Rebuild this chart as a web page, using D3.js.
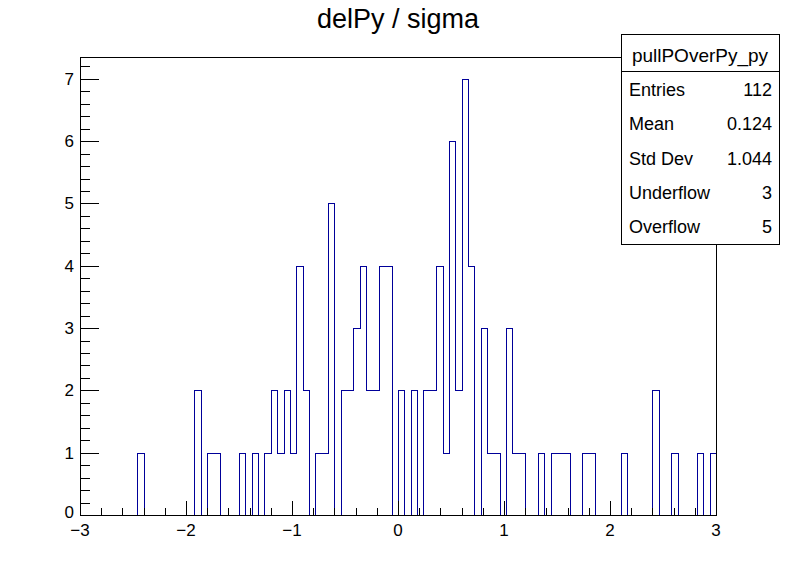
<!DOCTYPE html>
<html>
<head>
<meta charset="utf-8">
<script src="https://cdn.jsdelivr.net/npm/d3@7"></script>
<style>
  body { margin: 0; background: #fff; }
  svg text { font-family: "Liberation Sans", Arial, Helvetica, sans-serif; }
</style>
</head>
<body>
<div id="chart"></div>
<script>
(function(){
// Histogram definition: 100 bins from -3 to 3
const xMin = -3, xMax = 3, nBins = 100;
const binCounts = [
  0,0,0,0,0,0,0,0,0,1,
  0,0,0,0,0,0,0,0,2,0,
  1,1,0,0,0,1,0,1,0,1,
  2,1,2,1,4,2,0,1,1,5,
  0,2,2,3,4,2,2,4,4,0,
  2,0,2,0,2,2,4,1,6,2,
  7,4,0,3,1,1,0,3,1,1,
  0,0,1,0,1,1,1,0,0,1,
  1,0,0,0,0,1,0,0,0,0,
  2,0,0,1,0,0,0,1,0,1
];
const xTickValues = [-3, -2, -1, 0, 1, 2, 3];
const yTickValues = [0, 1, 2, 3, 4, 5, 6, 7];
const statNames = ["Entries", "Mean", "Std Dev", "Underflow", "Overflow"];
const statValues = ["112", "0.124", "1.044", "3", "5"];
const histName = "pullPOverPy_py";
const title = "delPy / sigma";

const width = 796, height = 572;
const frame = { left: 80, right: 716, top: 57, bottom: 515 };
const lineColor = "#000099";

const svg = d3.select("#chart").append("svg")
    .attr("width", width)
    .attr("height", height);

const x = d3.scaleLinear().domain([xMin, xMax]).range([frame.left, frame.right]);
const yMax = d3.max(binCounts) * 1.05;
const y = d3.scaleLinear().domain([0, yMax]).range([frame.bottom, frame.top]);

// Histogram outline (step line)
const binW = (xMax - xMin) / nBins;
const pts = [[x(xMin), y(0)]];
binCounts.forEach((c, i) => {
    const x0 = x(xMin + i * binW), x1 = x(xMin + (i + 1) * binW);
    pts.push([x0, y(c)]);
    pts.push([x1, y(c)]);
});
pts.push([x(xMax), y(0)]);

svg.append("path")
    .attr("d", d3.line()(pts.map(p => [Math.round(p[0]) + 0.5, Math.round(p[1]) + 0.5])))
    .attr("fill", "none")
    .attr("stroke", lineColor)
    .attr("stroke-width", 1)
    .attr("shape-rendering", "crispEdges");

// Frame
svg.append("rect")
    .attr("x", frame.left + 0.5)
    .attr("y", frame.top + 0.5)
    .attr("width", frame.right - frame.left)
    .attr("height", frame.bottom - frame.top)
    .attr("fill", "none")
    .attr("stroke", "#000")
    .attr("shape-rendering", "crispEdges");

// X axis ticks (major every 1, minor every 0.2)
const xMinor = d3.range(-2.8, 3, 0.2).filter(v => Math.abs(v - Math.round(v)) > 0.01);
const xMajorLen = 14, xMinorLen = 7;
const tickG = svg.append("g").attr("stroke", "#000").attr("shape-rendering", "crispEdges");
xTickValues.forEach(v => {
    const px = Math.round(x(v)) + 0.5;
    tickG.append("line").attr("x1", px).attr("x2", px)
        .attr("y1", frame.bottom).attr("y2", frame.bottom - xMajorLen);
});
xMinor.forEach(v => {
    const px = Math.round(x(v)) + 0.5;
    tickG.append("line").attr("x1", px).attr("x2", px)
        .attr("y1", frame.bottom).attr("y2", frame.bottom - xMinorLen);
});

// Y axis ticks (major every 1, minor every 0.2)
const yMinor = d3.range(0.2, yMax, 0.2).filter(v => Math.abs(v - Math.round(v)) > 0.01);
const yMajorLen = 19, yMinorLen = 9.5;
yTickValues.forEach(v => {
    const py = Math.round(y(v)) + 0.5;
    tickG.append("line").attr("x1", frame.left).attr("x2", frame.left + yMajorLen)
        .attr("y1", py).attr("y2", py);
});
yMinor.forEach(v => {
    const py = Math.round(y(v)) + 0.5;
    tickG.append("line").attr("x1", frame.left).attr("x2", frame.left + yMinorLen)
        .attr("y1", py).attr("y2", py);
});

// Tick labels
svg.selectAll("text.xlab")
    .data(xTickValues)
    .join("text")
    .attr("class", "xlab")
    .attr("x", d => x(d))
    .attr("y", 536)
    .attr("text-anchor", "middle")
    .style("font-size", "17px")
    .text(d => d < 0 ? "\u2212" + Math.abs(d) : d);

svg.selectAll("text.ylab")
    .data(yTickValues)
    .join("text")
    .attr("class", "ylab")
    .attr("x", 74)
    .attr("y", d => y(d) + (d === 0 ? 3 : 6))
    .attr("text-anchor", "end")
    .style("font-size", "17px")
    .text(d => d);

// Title
svg.append("text")
    .attr("x", width / 2)
    .attr("y", 28)
    .attr("text-anchor", "middle")
    .style("font-size", "27px")
    .text(title);

// Stats box
const box = { left: 621, right: 779, top: 34, bottom: 244, header: 71 };
svg.append("rect")
    .attr("x", box.left + 0.5)
    .attr("y", box.top + 0.5)
    .attr("width", box.right - box.left)
    .attr("height", box.bottom - box.top)
    .attr("fill", "#fff")
    .attr("stroke", "#000")
    .attr("shape-rendering", "crispEdges");
svg.append("line")
    .attr("x1", box.left).attr("x2", box.right)
    .attr("y1", box.header + 0.5).attr("y2", box.header + 0.5)
    .attr("stroke", "#000")
    .attr("shape-rendering", "crispEdges");
svg.append("text")
    .attr("x", (box.left + box.right) / 2)
    .attr("y", 62)
    .attr("text-anchor", "middle")
    .style("font-size", "19px")
    .text(histName);

const rowY = d3.scaleLinear().domain([0, statNames.length - 1]).range([96, 233]);
statNames.forEach((n, i) => {
    svg.append("text")
        .attr("x", 629)
        .attr("y", rowY(i))
        .style("font-size", "18px")
        .text(n);
    svg.append("text")
        .attr("x", 772)
        .attr("y", rowY(i))
        .attr("text-anchor", "end")
        .style("font-size", "18px")
        .text(statValues[i]);
});
})();
</script>
</body>
</html>
